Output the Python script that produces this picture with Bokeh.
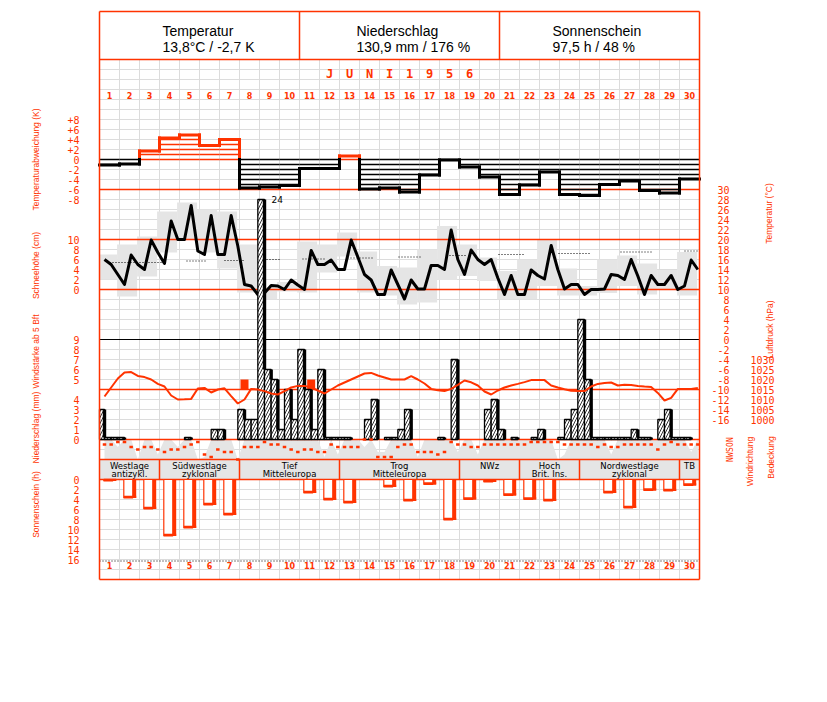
import numpy as np
from bokeh.plotting import figure
from bokeh.models import Range1d
from bokeh.embed import file_html
from bokeh.resources import INLINE
from bokeh.core.properties import value

# ---------------- data ----------------
days = list(range(1, 31))
day_labels = [str(d) for d in days]
month_chars = ["J", "U", "N", "I", "1", "9", "5", "6"]
month_cols = [12, 13, 14, 15, 16, 17, 18, 19]

header_titles = ["Temperatur", "Niederschlag", "Sonnenschein"]
header_values = ["13,8°C / -2,7 K", "130,9 mm / 176 %", "97,5 h / 48 %"]

# daily temperature deviation (K)
temp_dev = [-1.1, -0.9, 1.7, 4.3, 4.9, 2.8, 4.0, -5.7, -5.5, -5.2, -1.8, -1.8, 0.7, -5.9, -5.7,
            -6.5, -3.1, -0.1, -1.5, -3.5, -7.0, -5.1, -2.5, -7.0, -7.2, -5.0, -4.3, -6.2, -6.7, -3.9]

# temperature at the three observation times (deg C)
temp_7h = [16.0, 11.0, 14.0, 15.2, 20.0, 17.0, 17.0, 11.0, 9.3, 10.0, 10.0, 15.0, 14.0, 13.0, 9.0,
           8.1, 10.1, 14.0, 13.0, 15.0, 9.0, 9.0, 12.1, 10.1, 9.0, 10.1, 12.0, 9.0, 11.0, 10.7]
temp_14h = [15.0, 16.9, 19.9, 23.7, 26.8, 24.8, 24.8, 10.7, 10.8, 11.9, 17.8, 15.9, 19.9, 11.9, 13.9,
            11.9, 14.8, 21.9, 17.9, 16.0, 12.8, 13.9, 18.8, 11.0, 10.0, 13.0, 16.0, 12.8, 12.8, 15.9]
temp_21h = [13.0, 15.0, 17.4, 20.0, 17.7, 17.0, 18.7, 9.0, 10.7, 10.9, 15.0, 14.0, 16.5, 9.0, 11.0,
            10.1, 14.8, 16.0, 16.0, 12.3, 9.0, 12.8, 14.0, 11.0, 10.0, 12.8, 12.7, 11.0, 10.0, 14.0]

# daily max / min (grey boxes)
temp_max = [17.0, 19.0, 20.6, 25.6, 27.4, 26.0, 25.6, 19.0, 10.4, 11.5, 19.6, 19.0, 21.4, 17.6, 14.7,
            14.4, 18.0, 22.7, 19.0, 16.4, 13.7, 16.0, 20.0, 14.2, 10.7, 16.0, 16.8, 15.2, 13.9, 17.5]
temp_min = [12.0, 8.6, 12.6, 17.4, 20.0, 17.4, 14.2, 9.4, 8.0, 9.6, 9.4, 13.4, 16.6, 9.4, 8.8,
            7.0, 7.4, 11.9, 12.7, 11.7, 8.0, 8.0, 10.7, 8.8, 8.8, 9.3, 10.7, 9.0, 10.0, 8.8]

# dotted normal-temperature pieces (day offsets, deg C)
normal_from = [0.5, 4.35, 6.25, 8.35, 10.15, 12.4, 14.95, 17.5, 19.95, 22.95, 26.05, 29.25]
normal_to = [3.25, 5.3, 7.25, 9.0, 11.25, 13.65, 16.1, 18.4, 21.3, 24.5, 27.6, 30.0]
normal_temp = [15.4, 15.7, 15.8, 16.0, 16.1, 16.3, 16.5, 16.8, 17.0, 17.2, 17.5, 17.7]

# air pressure (hPa)
pres_7h = [1011.5, 1023.5, 1021.2, 1016.5, 1010.1, 1015.8, 1015.6, 1010.0, 1014.2, 1014.2, 1016.8, 1013.0,
           1018.5, 1023.0, 1021.0, 1020.0, 1018.0, 1014.2, 1019.5, 1014.0, 1016.0, 1018.7, 1019.7, 1015.1,
           1014.2, 1018.3, 1017.4, 1016.5, 1009.5, 1015.3]
pres_14h = [1016.0, 1023.7, 1020.0, 1012.0, 1010.3, 1013.5, 1011.7, 1015.3, 1013.0, 1016.0, 1016.0, 1015.0,
            1020.0, 1023.3, 1020.0, 1021.7, 1015.3, 1015.3, 1018.6, 1012.5, 1017.0, 1019.7, 1017.0, 1014.4,
            1016.5, 1018.5, 1017.2, 1016.3, 1010.8, 1015.3]
pres_21h = [1020.5, 1021.8, 1017.8, 1010.0, 1015.5, 1015.0, 1008.0, 1015.0, 1012.5, 1016.8, 1014.5, 1017.0,
            1021.5, 1022.0, 1020.0, 1020.0, 1014.6, 1017.3, 1017.0, 1014.5, 1017.8, 1019.7, 1016.0, 1014.2,
            1017.8, 1017.0, 1016.8, 1013.3, 1015.3, 1015.7]

# wind of 5 Bft or more
wind_day = [8, 11]
wind_obs = [0, 1]
wind_bft = [5, 5]

# precipitation per period (mm): 21-7 h, 7-14 h, 14-21 h
prec_night = [3, 0.2, 0, 0, 0, 0, 1, 3, 24, 1, 9, 7, 0.2, 0, 0, 1, 0, 0.2, 0, 0, 1, 0, 1, 0.2, 12, 0.2, 0.2, 0.2, 2, 0.2]
prec_morn = [0.2, 0, 0, 0, 0.2, 0, 0, 2, 7, 5, 5, 0.2, 0.2, 2, 0.2, 3, 0, 0, 0, 3, 0, 0, 0, 2, 6, 0.2, 0.2, 0.2, 3, 0.2]
prec_eve = [0.2, 0, 0, 0, 0, 1, 0, 2, 6, 2, 1, 0.2, 0, 4, 0.2, 0, 0, 8, 0, 4, 0.2, 0.2, 0, 3, 0.2, 0.2, 1, 0, 0.2, 0]

# wind direction (degrees) at the three observation times
dir_7h = [90, 45, 135, 225, 135, 270, 225, 135, 45, 135, 180, 225, 135, 0, 315,
          90, 225, 225, 90, 90, 90, 90, 45, 90, 90, 90, 90, 90, 90, 90]
dir_14h = [90, 135, 135, 180, 90, 315, 225, 135, 90, 180, 180, 90, 135, 0, 315,
           90, 225, 45, 135, 90, 90, 45, 45, 90, 90, 135, 90, 90, 45, 90]
dir_21h = [45, 180, 180, 180, 45, 180, 360, 135, 90, 225, 225, 135, 135, 315, 135,
           225, 270, 90, 135, 90, 90, 45, 45, 90, 135, 135, 90, 180, 90, 90]

# cloud cover (octas)
cloud_7h = [8, 8, 8, 8, 8, 1, 8, 8, 8, 8, 8, 1, 8, 5, 3, 8, 8, 8, 8, 8, 8, 8, 8, 2, 8, 8, 8, 8, 8, 8]
cloud_14h = [8, 8, 8, 8, 8, 8, 8, 8, 8, 8, 8, 8, 8, 8, 8, 8, 8, 8, 8, 8, 8, 8, 8, 8, 8, 2, 8, 8, 8, 3]
cloud_21h = [5, 0, 2, 5, 0, 8, 0, 8, 8, 8, 8, 2, 8, 3, 8, 1, 8, 3, 2, 8, 8, 8, 0, 8, 8, 8, 8, 8, 8, 8]

# weather types
wt_first = [1, 4, 8, 13, 19, 22, 25, 30]
wt_last = [3, 7, 12, 18, 21, 24, 29, 30]
wt_line1 = ["Westlage", "Südwestlage", "Tief", "Trog", "NWz", "Hoch", "Nordwestlage", "TB"]
wt_line2 = ["antizykl.", "zyklonal", "Mitteleuropa", "Mitteleuropa", "", "Brit. Ins.", "zyklonal", ""]

# sunshine (h)
sunshine = [0.3, 3.7, 5.9, 11.3, 9.7, 5.1, 7.1, 0, 0, 0, 2.7, 4.1, 4.7, 0, 1.5,
            4.3, 1.0, 8.1, 4.0, 0.5, 3.2, 4.0, 4.3, 0, 0, 2.7, 5.7, 2.2, 2.3, 1.2]
possible_sun = 16.3

# axis tick labels
dev_ticks = [8, 6, 4, 2, 0, -2, -4, -6, -8]
dev_labels = ["+8", "+6", "+4", "+2", "0", "-2", "-4", "-6", "-8"]
snow_ticks = [10, 8, 6, 4, 2, 0]
wind_ticks = [9, 8, 7, 6, 5]
prec_ticks = [4, 3, 2, 1, 0]
sun_ticks = [0, 2, 4, 6, 8, 10, 12, 14, 16]
temp_ticks = list(range(30, -17, -2))
pres_ticks = [1030, 1025, 1020, 1015, 1010, 1005, 1000]
dir_ticks = [0, 90, 180, 270, 360]
dir_labels = ["N", "O", "S", "W", "N"]

# ---------------- styling ----------------
RED = "#ff3300"
GRID = "#dcdcdc"
GRAY = "#e5e5e5"
MONO = value("DejaVu Sans Mono")
SANS = value("DejaVu Sans")
NARROW = value("Liberation Sans")
HEAD = value("Liberation Sans")

W, H = 811, 686
X0, Y0 = 1, 1
p = figure(width=W, height=H, x_range=Range1d(X0, X0 + W), y_range=Range1d(Y0 + H, Y0),
           output_backend="svg", toolbar_location=None, x_axis_type=None, y_axis_type=None,
           min_border=0, outline_line_color=None)


def yrange(a, b):
    """pixel = a + b * value"""
    return Range1d(start=(Y0 + H - a) / b, end=(Y0 - a) / b)


# frame coordinates (page pixels)
FL, FR, FT, FB = 100, 700, 12, 580
DAYW = 20.0
p.extra_x_ranges = {"d": Range1d(start=(X0 - FL) / DAYW, end=(X0 + W - FL) / DAYW)}
p.extra_y_ranges = {
    "dev": yrange(160, -5),
    "temp": yrange(340, -5),
    "snow": yrange(290, -5),
    "wind": yrange(430, -10),
    "pres": yrange(2420, -2),
    "prec": yrange(440, -10),
    "dir": yrange(440, 1 / 18),
    "cloud": yrange(460, -2.5),
    "sun": yrange(480, 5),
}

OBS = np.array([0.25, 0.5833, 0.9167])
d0 = np.arange(30)
obs_t = (d0[:, None] + OBS[None, :]).ravel()


def by_obs(a, b, c):
    return np.column_stack([a, b, c]).ravel()


# ---- grid ----
gy = np.arange(70, FB, 10)
p.segment(x0=FL, y0=gy, x1=FR, y1=gy, line_color=GRID, line_width=1)
p.segment(x0=np.arange(1, 30), y0=60, x1=np.arange(1, 30), y1=FB, line_color=GRID, line_width=1,
          x_range_name="d")

# ---- temperature panel: grey boxes ----
left_box = np.maximum(d0 - 0.12, 0)
p.quad(left=left_box, right=d0 + 0.88, bottom=temp_min, top=temp_max, fill_color=GRAY,
       line_color=None, x_range_name="d", y_range_name="temp")

# ---- cloud cover ----
p.varea(x=obs_t, y1=np.zeros(90), y2=by_obs(cloud_7h, cloud_14h, cloud_21h), fill_color=GRAY,
        x_range_name="d", y_range_name="cloud")

# ---- weather types ----
wt_f = np.array(wt_first)
wt_l = np.array(wt_last)
p.quad(left=wt_f - 1, right=wt_l, bottom=480, top=460, fill_color=GRAY, line_color=None,
       x_range_name="d")
p.segment(x0=wt_l[:-1], y0=460, x1=wt_l[:-1], y1=480, line_color=RED, line_width=1.5, x_range_name="d")
wt_mid = (wt_f - 1 + wt_l) / 2.0
p.text(x=wt_mid, y=466.5, text=wt_line1, text_font=SANS, text_font_size="8.5px", text_align="center",
       text_baseline="middle", text_color="black", x_range_name="d")
p.text(x=wt_mid, y=474.5, text=wt_line2, text_font=SANS, text_font_size="8.5px", text_align="center",
       text_baseline="middle", text_color="black", x_range_name="d")

# ---- panel lines ----
p.segment(x0=FL, y0=[60, 440, 460, 480], x1=FR, y1=[60, 440, 460, 480], line_color=RED, line_width=1.5)
p.segment(x0=FL, y0=-6, x1=FR, y1=-6, line_color=RED, line_width=1.5, y_range_name="dev")
p.segment(x0=FL, y0=[10, 20], x1=FR, y1=[10, 20], line_color=RED, line_width=1.5, y_range_name="temp")
p.segment(x0=FL, y0=1015, x1=FR, y1=1015, line_color=RED, line_width=1.5, y_range_name="pres")
p.segment(x0=FL, y0=9, x1=FR, y1=9, line_color="black", line_width=1.2, y_range_name="wind")

# ---- temperature deviation ----
dev = np.array(temp_dev)
hx0, hx1, hy, hc = [], [], [], []
for i, v in enumerate(dev):
    s = 1 if v > 0 else -1
    for k in range(0, int(np.floor(abs(v))) + 1):
        hx0.append(i)
        hx1.append(i + 1)
        hy.append(s * k)
        hc.append(RED if v > 0 else "black")
p.segment(x0=hx0, y0=hy, x1=hx1, y1=hy, line_color=hc, line_width=1.3, x_range_name="d", y_range_name="dev")
sx0, sy0, sx1, sy1, sc = [], [], [], [], []
for i, v in enumerate(dev):
    sx0.append(i); sx1.append(i + 1); sy0.append(v); sy1.append(v)
    sc.append(RED if v > 0 else "black")
for i in range(29):
    a, b = dev[i], dev[i + 1]
    lo, hi = min(a, b), max(a, b)
    if hi > 0:
        sx0.append(i + 1); sx1.append(i + 1); sy0.append(max(lo, 0)); sy1.append(hi); sc.append(RED)
    if lo < 0:
        sx0.append(i + 1); sx1.append(i + 1); sy0.append(lo); sy1.append(min(hi, 0)); sc.append("black")
p.segment(x0=sx0, y0=sy0, x1=sx1, y1=sy1, line_color=sc, line_width=3, line_cap="square",
          x_range_name="d", y_range_name="dev")

# ---- normal temperature (dotted) ----
p.segment(x0=normal_from, y0=normal_temp, x1=normal_to, y1=normal_temp, line_color="black",
          line_width=1, line_dash="1 2", x_range_name="d", y_range_name="temp")

# ---- temperature line ----
p.line(x=obs_t, y=by_obs(temp_7h, temp_14h, temp_21h), line_color="black", line_width=3,
       line_join="round", x_range_name="d", y_range_name="temp")

# ---- wind squares ----
wt = np.array(wind_day) - 1 + OBS[np.array(wind_obs)]
p.quad(left=wt - 0.2, right=wt + 0.2, bottom=4, top=wind_bft, fill_color=RED, line_color=None,
       x_range_name="d", y_range_name="wind")

# ---- precipitation ----
prec = by_obs(prec_night, prec_morn, prec_eve)
pstart = (d0[:, None] + np.array([-1 / 12, 0.25, 0.5833])[None, :]).ravel()
pend = pstart + 1 / 3
m = prec > 0
p.quad(left=np.maximum(pstart[m], 0), right=pend[m], bottom=0, top=prec[m], fill_color="white",
       line_color="black", line_width=1.3, hatch_pattern="right_diagonal_line", hatch_color="black",
       hatch_scale=6, hatch_weight=0.8, x_range_name="d", y_range_name="prec")
nxt = np.append(prec[1:], 0)
ms = prec > nxt
p.quad(left=pend[ms] - 0.085, right=pend[ms] + 0.085, top=prec[ms], bottom=nxt[ms], fill_color="black",
       line_color=None, x_range_name="d", y_range_name="prec")
big = prec >= 20
p.text(x=pend[big] + 0.35, y=prec[big], text=[str(int(v)) for v in prec[big]], text_font=SANS,
       text_font_size="9px", text_align="left", text_baseline="middle", text_color="black",
       x_range_name="d", y_range_name="prec")

# ---- pressure ----
p.line(x=obs_t, y=by_obs(pres_7h, pres_14h, pres_21h), line_color=RED, line_width=2,
       x_range_name="d", y_range_name="pres")

# ---- wind direction dashes ----
p.rect(x=obs_t, y=by_obs(dir_7h, dir_14h, dir_21h), width=3.5, height=2.5, width_units="screen",
       height_units="screen", fill_color=RED, line_color=None, x_range_name="d", y_range_name="dir")

# ---- sunshine ----
sun = np.array(sunshine)
ms = sun > 0
sl = d0[ms] + 0.215
sr = d0[ms] + 0.665
p.quad(left=sl, right=sr, top=0, bottom=sun[ms], fill_color="white", line_color=RED, line_width=1.2,
       x_range_name="d", y_range_name="sun")
p.quad(left=sr, right=sr + 0.17, top=0, bottom=sun[ms], fill_color=RED, line_color=None,
       x_range_name="d", y_range_name="sun")
p.quad(left=sl, right=sr + 0.17, top=sun[ms] - 0.45, bottom=sun[ms], fill_color=RED, line_color=None,
       x_range_name="d", y_range_name="sun")
p.segment(x0=0, y0=possible_sun, x1=30, y1=possible_sun, line_color="black", line_width=1,
          line_dash="1 2", x_range_name="d", y_range_name="sun")

# ---- frame ----
p.segment(x0=[FL, FL, FL, FR, 300, 500], y0=[FT, FB, FT, FT, FT, FT],
          x1=[FR, FR, FL, FR, 300, 500], y1=[FT, FB, FB, FB, 60, 60], line_color=RED, line_width=1.5)

# ---- header ----
p.text(x=[163, 357, 553], y=31, text=header_titles, text_font=HEAD, text_font_size="14px",
       text_align="left", text_baseline="middle", text_color="black")
p.text(x=[163, 357, 553], y=47.5, text=header_values, text_font=HEAD, text_font_size="14px",
       text_align="left", text_baseline="middle", text_color="black")

# ---- month and day labels ----
p.text(x=np.array(month_cols) - 0.5, y=74, text=month_chars, text_font=MONO, text_font_size="12px",
       text_font_style="bold", text_align="center", text_baseline="middle", text_color=RED,
       x_range_name="d")
for yy in (96, 566):
    p.text(x=d0 + 0.5, y=yy, text=day_labels, text_font=SANS, text_font_size="8px",
           text_font_style="bold", text_align="center", text_baseline="middle", text_color=RED,
           x_range_name="d")

# ---- tick labels ----
def ticks(xpos, vals, labels, rng, align="right"):
    p.text(x=xpos, y=vals, text=labels, text_font=MONO, text_font_size="10px", text_align=align,
           text_baseline="middle", text_color=RED, y_range_name=rng)


ticks(80, dev_ticks, dev_labels, "dev")
ticks(80, snow_ticks, [str(v) for v in snow_ticks], "snow")
ticks(80, wind_ticks, [str(v) for v in wind_ticks], "wind")
ticks(80, prec_ticks, [str(v) for v in prec_ticks], "prec")
ticks(80, sun_ticks, [str(v) for v in sun_ticks], "sun")
ticks(730, temp_ticks, [str(v) for v in temp_ticks], "temp")
ticks(775, pres_ticks, [str(v) for v in pres_ticks], "pres")
p.text(x=731, y=dir_ticks, text=dir_labels, text_font=MONO, text_font_size="8px", angle=np.pi / 2,
       text_align="center", text_baseline="middle", text_color=RED, y_range_name="dir")

# ---- rotated titles ----
lt = ["Temperaturabweichung (K)", "Schneehöhe (cm)", "Windstärke ab 5 Bft", "Niederschlag (mm)",
      "Sonnenschein (h)"]
p.text(x=36, y=[160, 266, 352, 428, 505], text=lt, text_font=NARROW, text_font_size="8.5px",
       angle=np.pi / 2, text_align="center", text_baseline="middle", text_color=RED)
rt = ["Temperatur (°C)", "Luftdruck (hPa)", "Windrichtung", "Bedeckung"]
p.text(x=[769, 770, 750, 771], y=[214, 330, 462, 458], text=rt, text_font=NARROW,
       text_font_size="8.5px", angle=np.pi / 2, text_align="center", text_baseline="middle",
       text_color=RED)

open("out.html", "w").write(file_html(p, INLINE))
